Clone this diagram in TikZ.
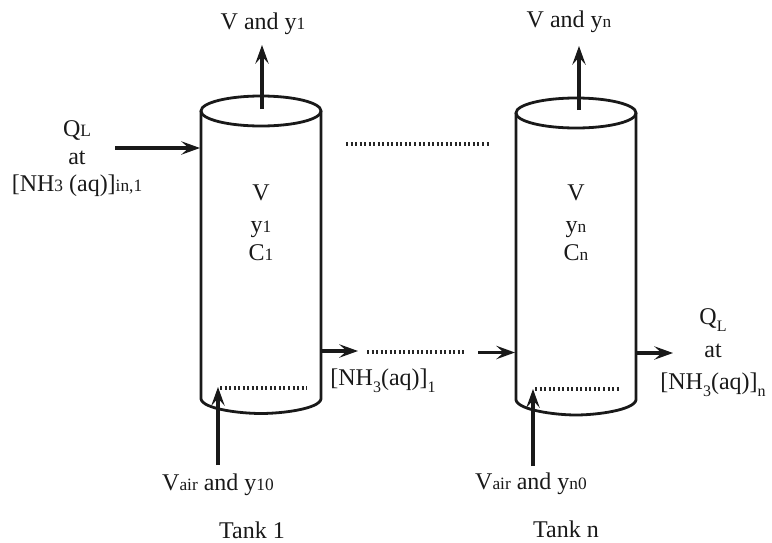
\documentclass[tikz,border=0pt]{standalone}
\usepackage{fontspec}
\setmainfont{Liberation Serif}
\usetikzlibrary{arrows.meta}
\newcommand{\lowsub}[1]{{\fontsize{13}{15}\selectfont #1}}
\newcommand{\dropsub}[1]{\raisebox{-0.3em}{\fontsize{12}{13}\selectfont #1}}
\tikzset{
  x=0.75pt,y=-0.75pt,
  vessel/.style={line width=2.1pt,draw=black!90,fill=none},
  flow/.style={line width=2.5pt,draw=black!90,-{Stealth[length=14pt,width=10pt,inset=5.5pt]},shorten >=0pt},
  gap/.style={line width=2.3pt,draw=black!85,dash pattern=on 1.5pt off 1.9pt},
  lab/.style={anchor=base,inner sep=0pt,outer sep=0pt,font=\fontsize{18}{20}\selectfont,text=black!90},
}
\begin{document}
\begin{tikzpicture}
\useasboundingbox (0,0) rectangle (772,543);
% Tank 1
\coordinate (t1L) at (201,111);
\coordinate (t1R) at (321,111);
\coordinate (b1L) at (201,399);
\coordinate (b1R) at (321,399);
\draw[vessel] (261,111) ellipse [x radius=60,y radius=15];
\draw[vessel] (t1L) -- (b1L) .. controls (203,409) and (240,413.5) .. (261,413.5) .. controls (282,413.5) and (319,409) .. (b1R) -- (t1R);
% Tank n
\coordinate (tnL) at (516,113);
\coordinate (tnR) at (636,113);
\coordinate (bnL) at (516,400);
\coordinate (bnR) at (636,400);
\draw[vessel] (576,113) ellipse [x radius=60,y radius=15];
\draw[vessel] (tnL) -- (bnL) .. controls (518,410) and (555,415) .. (576,415) .. controls (597,415) and (634,410) .. (bnR) -- (tnR);
% labels
\node[lab] (v1top) at (263,29) {V and y\lowsub{1}};
\node[lab] (vntop) at (569,27) {V and y\lowsub{n}};
\node[lab] (ql1) at (77,136) {Q\lowsub{L}};
\node[lab] (at1) at (77,164) {at};
\node[lab] (nh1) at (77,191) {[NH\lowsub{3} (aq)]\lowsub{in,1}};
\node[lab] (v1) at (261,200) {V};
\node[lab] (y1) at (261,232) {y\lowsub{1}};
\node[lab] (c1) at (261,260) {C\lowsub{1}};
\node[lab] (vn) at (576,200) {V};
\node[lab] (yn) at (576,232) {y\lowsub{n}};
\node[lab] (cn) at (576,260) {C\lowsub{n}};
\node[lab] (nhmid) at (383,385) {[NH\dropsub{3}(aq)]\dropsub{1}};
\node[lab] (qln) at (713,324) {Q\dropsub{L}};
\node[lab] (atn) at (713,357) {at};
\node[lab] (nhn) at (713,389) {[NH\dropsub{3}(aq)]\dropsub{n}};
\node[lab] (air1) at (218,490) {V\lowsub{air} and y\lowsub{10}};
\node[lab] (airn) at (531,489) {V\lowsub{air} and y\lowsub{n0}};
\node[lab] (tank1) at (252,538) {Tank 1};
\node[lab] (tankn) at (566,537) {Tank n};
% connector ends
\coordinate (a1s) at (262,109); \coordinate (a1e) at (262,45);
\coordinate (ans) at (579,110); \coordinate (ane) at (579,46);
\coordinate (fs) at (115,148); \coordinate (fe) at (200,148);
\coordinate (m1s) at (321,351); \coordinate (m1e) at (358,351);
\coordinate (m2s) at (478,352.5); \coordinate (m2e) at (515,352.5);
\coordinate (os) at (636,353); \coordinate (oe) at (673,353);
\coordinate (g1s) at (218,465); \coordinate (g1e) at (218,387);
\coordinate (gns) at (533,466); \coordinate (gne) at (533,389);
\draw[flow] (a1s) -- (a1e);
\draw[flow] (ans) -- (ane);
\draw[flow] (fs) -- (fe);
\draw[flow] (m1s) -- (m1e);
\draw[flow] (m2s) -- (m2e);
\draw[flow] (os) -- (oe);
\draw[flow] (g1s) -- (g1e);
\draw[flow] (gns) -- (gne);
% dotted runs
\coordinate (d1s) at (346,144); \coordinate (d1e) at (490,144);
\coordinate (d2s) at (367,352); \coordinate (d2e) at (465,352);
\coordinate (d3s) at (220,388); \coordinate (d3e) at (307,388);
\coordinate (d4s) at (535,389); \coordinate (d4e) at (621,389);
\draw[gap] (d1s) -- (d1e);
\draw[gap] (d2s) -- (d2e);
\draw[gap] (d3s) -- (d3e);
\draw[gap] (d4s) -- (d4e);
\end{tikzpicture}
\end{document}
